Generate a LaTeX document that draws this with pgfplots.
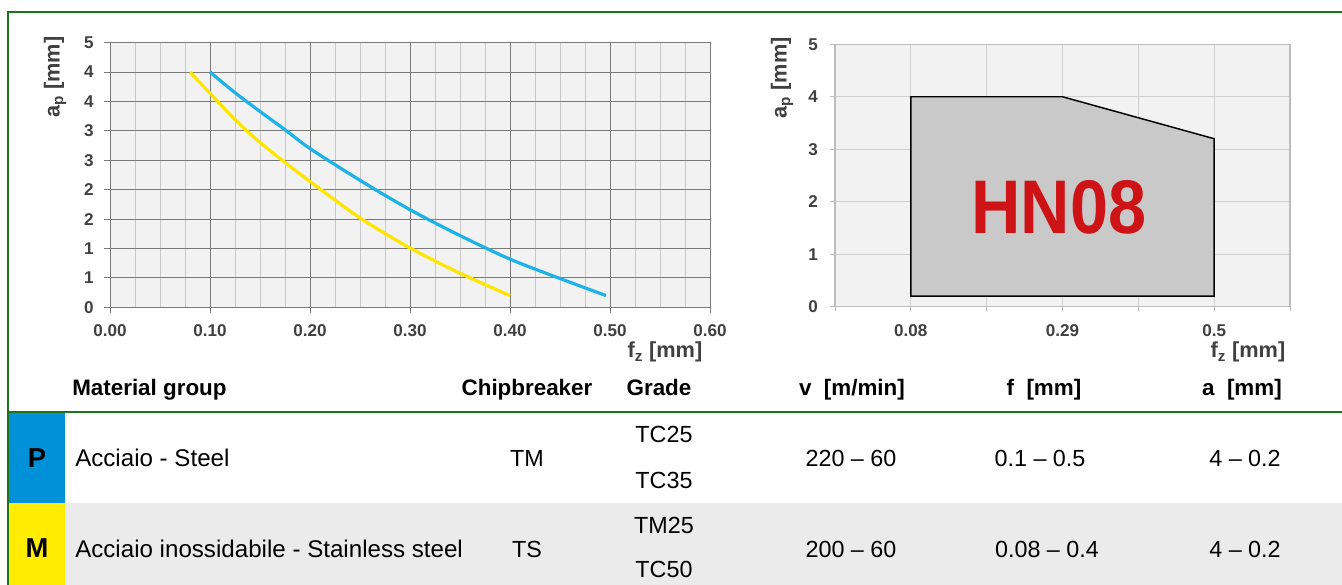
\documentclass[border=0pt]{standalone}
\usepackage{fontspec}
\setmainfont{Liberation Sans}
\usepackage{graphicx}
\usepackage{pgfplots}
\pgfplotsset{compat=1.18}

\definecolor{bordergreen}{HTML}{1B741B}
\definecolor{plotbg}{HTML}{F2F2F2}
\definecolor{gridmajor}{HTML}{7A7A7A}
\definecolor{gridminor}{HTML}{C8C8C8}
\definecolor{gridlight}{HTML}{CFCFCF}
\definecolor{axislight}{HTML}{BDBDBD}
\definecolor{lblgray}{HTML}{404040}
\definecolor{curveblue}{HTML}{1DB3E8}
\definecolor{curveyellow}{HTML}{FFE500}
\definecolor{cellblue}{HTML}{0091D9}
\definecolor{cellyellow}{HTML}{FFEC00}
\definecolor{rowgray}{HTML}{EBEBEB}
\definecolor{hnred}{HTML}{CE1316}
\definecolor{polyfill}{HTML}{C9C9C9}

\newcommand\hdr{\fontsize{16.8}{18}\selectfont\bfseries}
\newcommand\grpletter{\fontsize{20.5}{21}\selectfont\bfseries}
\newcommand\cell{\fontsize{17.5}{18}\selectfont}
\newcommand\cellw{\fontsize{18.1}{19}\selectfont}
\newcommand\ticklab{\fontsize{12.8}{13}\selectfont\bfseries}
\newcommand\axlab{\fontsize{16.3}{17}\selectfont\bfseries}

\begin{document}
\begin{tikzpicture}
\useasboundingbox (0,0) rectangle (1006.5pt,-438.75pt);
\begin{scope}[x=0.75pt,y=-0.75pt]
  \fill[rowgray] (65,503) rectangle (1342,585);
  \fill[cellblue] (8,412) rectangle (65,503);
  \fill[cellyellow] (8,503) rectangle (65,585);
  \draw[bordergreen, line width=1.2pt] (1342,12) -- (8,12) -- (8,585);
  \draw[bordergreen, line width=1.6pt] (8,412) -- (1342,412);
  % header
  \node[anchor=base west, inner sep=0pt, font=\hdr] at (72,395) {Material group};
  \node[anchor=base, inner sep=0pt, font=\hdr] at (527,395) {Chipbreaker};
  \node[anchor=base, inner sep=0pt, font=\hdr] at (659,395) {Grade};
  \node[anchor=base, inner sep=0pt, font=\hdr] at (852,395) {v\hspace{0.55em}[m/min]};
  \node[anchor=base, inner sep=0pt, font=\hdr] at (1044,395) {f\hspace{0.55em}[mm]};
  \node[anchor=base, inner sep=0pt, font=\hdr] at (1242,395) {a\hspace{0.55em}[mm]};
  % row P
  \node[anchor=base, inner sep=0pt, font=\grpletter] at (37,467) {P};
  \node[anchor=base west, inner sep=0pt, font=\cellw] at (75,466) {Acciaio - Steel};
  \node[anchor=base, inner sep=0pt, font=\cell] at (527,466) {TM};
  \node[anchor=base, inner sep=0pt, font=\cell] at (664,442) {TC25};
  \node[anchor=base, inner sep=0pt, font=\cell] at (664,488) {TC35};
  \node[anchor=base, inner sep=0pt, font=\cell] at (851,466) {220 -- 60};
  \node[anchor=base, inner sep=0pt, font=\cell] at (1040,466) {0.1 -- 0.5};
  \node[anchor=base, inner sep=0pt, font=\cell] at (1245,466) {4 -- 0.2};
  % row M
  \node[anchor=base, inner sep=0pt, font=\grpletter] at (37,557) {M};
  \node[anchor=base west, inner sep=0pt, font=\cellw] at (75,557) {Acciaio inossidabile - Stainless steel};
  \node[anchor=base, inner sep=0pt, font=\cell] at (527,557) {TS};
  \node[anchor=base, inner sep=0pt, font=\cell] at (664,533) {TM25};
  \node[anchor=base, inner sep=0pt, font=\cell] at (664,577) {TC50};
  \node[anchor=base, inner sep=0pt, font=\cell] at (851,557) {200 -- 60};
  \node[anchor=base, inner sep=0pt, font=\cell] at (1047,557) {0.08 -- 0.4};
  \node[anchor=base, inner sep=0pt, font=\cell] at (1245,557) {4 -- 0.2};
\end{scope}

% ---------- left chart ----------
\begin{axis}[
  at={(82.5pt,-230.5pt)}, anchor=south west,
  scale only axis, width=450pt, height=198.5pt,
  xmin=0, xmax=0.6, ymin=0, ymax=4.5,
  axis background/.style={fill=plotbg},
  xtick={0,0.1,0.2,0.3,0.4,0.5,0.6},
  xticklabels={0.00,0.10,0.20,0.30,0.40,0.50,0.60},
  minor x tick num=3,
  ytick={0,0.5,1,1.5,2,2.5,3,3.5,4,4.5},
  yticklabels={0,1,1,2,2,3,3,4,4,5},
  xmajorgrids, ymajorgrids, xminorgrids,
  major grid style={draw=gridmajor, line width=0.75pt},
  minor grid style={draw=gridminor, line width=0.75pt},
  axis line style={draw=gridmajor, line width=0.75pt},
  tick pos=left,
  tick align=outside, major tick length=4.5pt, minor tick length=0pt,
  every tick/.style={draw=gridmajor, line width=0.75pt},
  tick label style={font=\ticklab, text=lblgray, inner sep=0pt},
  yticklabel style={anchor=east, xshift=-7.5pt},
  xticklabel style={anchor=center, yshift=-13.3pt},
  /pgf/number format/assume math mode=true,
  label style={font=\axlab, text=lblgray},
  ylabel={a\textsubscript{p} [mm]},
  ylabel style={at={(axis description cs:-0.0917,0.870)}, anchor=center},
  xlabel={f\textsubscript{z} [mm]},
  xlabel style={at={(axis description cs:0.995,-0.169)}, anchor=east},
]
\addplot[curveyellow, line width=2.4pt, smooth, tension=0.5] coordinates {
  (0.08,4.00) (0.10,3.64) (0.12,3.28) (0.14,2.95) (0.17,2.53) (0.20,2.14)
  (0.25,1.52) (0.30,1.01) (0.35,0.58) (0.40,0.20)};
\addplot[curveblue, line width=2.4pt, smooth, tension=0.5] coordinates {
  (0.10,4.00) (0.125,3.65) (0.15,3.33) (0.175,3.02) (0.20,2.70) (0.25,2.16)
  (0.30,1.66) (0.35,1.22) (0.40,0.82) (0.45,0.49) (0.496,0.20)};
\end{axis}

% ---------- right chart ----------
\begin{axis}[
  at={(626.25pt,-230pt)}, anchor=south west,
  scale only axis, width=341.25pt, height=196.8pt,
  xmin=-0.025, xmax=0.605, ymin=0, ymax=5,
  axis background/.style={fill=plotbg},
  xtick={-0.025,0.08,0.185,0.29,0.395,0.5,0.605},
  xticklabels={,0.08,,0.29,,0.5,},
  ytick={0,1,2,3,4,5},
  yticklabels={0,1,2,3,4,5},
  xmajorgrids, ymajorgrids,
  major grid style={draw=gridlight, line width=0.75pt},
  axis line style={draw=axislight, line width=0.9pt},
  tick pos=left,
  tick align=outside, major tick length=3.5pt,
  every tick/.style={draw=axislight, line width=0.75pt},
  tick label style={font=\ticklab, text=lblgray, inner sep=0pt},
  yticklabel style={anchor=east, xshift=-9.25pt},
  xticklabel style={anchor=center, yshift=-14.7pt},
  /pgf/number format/assume math mode=true,
  label style={font=\axlab, text=lblgray},
  ylabel={a\textsubscript{p} [mm]},
  ylabel style={at={(axis description cs:-0.1165,0.8716)}, anchor=center},
  xlabel={f\textsubscript{z} [mm]},
  xlabel style={at={(axis description cs:1.0,-0.173)}, anchor=east},
]
\addplot[fill=polyfill, draw=black, line width=1.1pt] coordinates {
  (0.08,0.2) (0.08,4) (0.29,4) (0.5,3.2) (0.5,0.2)} -- cycle;
\node[font=\fontsize{57}{57}\selectfont\bfseries, text=hnred, inner sep=0pt]
  at (axis cs:0.285,1.89) {\scalebox{0.9}[1]{HN08}};
\end{axis}
\end{tikzpicture}
\end{document}
